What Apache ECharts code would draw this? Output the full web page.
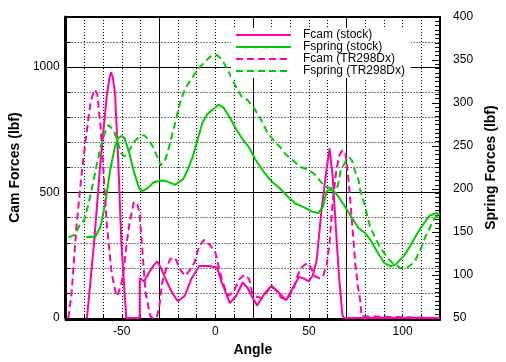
<!DOCTYPE html>
<html>
<head>
<meta charset="utf-8">
<script src="https://cdn.jsdelivr.net/npm/echarts@6/dist/echarts.min.js"></script>
<style>
html,body{margin:0;padding:0;background:#fff;}
#c{width:506px;height:362px;}
</style>
</head>
<body>
<div id="c"></div>
<script>
// ---- data (angle, value) ----
const seriesNames = ['Fcam (stock)', 'Fspring (stock)', 'Fcam (TR298Dx)', 'Fspring (TR298Dx)'];
const xTicks = [-50, 0, 50, 100];
const camTicks = [0, 500, 1000];
const springTicks = [50, 100, 150, 200, 250, 300, 350, 400];

const fcamStock = [[-68.6,0],[-64.8,299],[-61.3,630],[-57.9,894],[-56.5,960],[-55.7,980],[-54.8,960],[-53.6,894],[-51.9,630],[-50.2,299],[-47.6,0],[-40.4,0],[-40.4,160],[-38.1,146],[-35.6,180],[-33,210],[-31,226],[-28.8,195],[-26.6,156],[-23.2,102],[-20.1,67],[-16.3,89],[-12.9,156],[-8.6,208],[-3.5,208],[0.8,202],[3.4,142],[7.7,60],[11.1,89],[14.6,142],[17.2,120],[19.7,84],[22.3,50],[26,95],[30,129],[34,100],[37.8,71],[41,115],[44.6,164],[47.2,158],[49.8,146],[52,170],[54.1,232],[56.7,431],[59.3,590],[61,676],[62.7,560],[64.4,351],[66,170],[67.8,14],[68.7,0],[120,0]];

const fspringStock = [[-69.1,143.9],[-64,144.9],[-61.3,156.6],[-58.8,183.5],[-56.2,222.1],[-53.6,249.5],[-51.9,259.2],[-50.2,261.7],[-48.5,259.2],[-45.9,241.4],[-43.3,218.5],[-40.7,200.8],[-39,197.7],[-36.4,200.8],[-33,207.9],[-28.7,209.9],[-26.6,209.6],[-21.5,204.8],[-17.2,211.6],[-14.6,223.1],[-12,238.4],[-9.5,257.7],[-6.9,277],[-4.3,287.1],[-0.9,293.2],[1.7,298.3],[4.3,294.7],[7.7,283.1],[11.1,269.6],[14.6,257.7],[18,248.3],[21.4,234],[25.8,220.1],[30,208.9],[34.3,201.2],[38.6,191.4],[42.9,182.9],[47.2,179],[51.4,174],[55,172.1],[57.5,179.8],[59.3,197.2],[61.5,199.5],[64.4,195.3],[66.1,189.6],[68.7,181.5],[69.6,179.8],[73,166.2],[76.4,154.8],[79.9,149],[83.3,139.1],[86.8,125.6],[90.2,114.1],[93.6,110.2],[96.2,112.1],[100.5,121.7],[103.9,133.3],[107.4,146.9],[110.8,158.5],[114.3,169],[117.7,172.1],[120,170.2]];

const fcamTR = [[-78.5,0],[-76.8,100],[-74.2,365],[-71.6,563],[-69.1,722],[-66.5,868],[-64.4,910],[-63.1,894],[-61.3,762],[-59.6,563],[-57.9,365],[-55.4,180],[-53.6,113],[-52.7,87],[-51.3,110],[-49.3,166],[-47.5,290],[-45.9,378],[-43.5,464],[-41.5,450],[-40.4,410],[-39,272],[-37.3,100],[-34.7,7],[-33.5,0],[-31.5,0],[-30.1,37],[-28.4,142],[-25.8,208],[-24.1,235],[-21.5,241],[-18.9,195],[-16.3,169],[-13.8,189],[-11.2,222],[-8.6,288],[-6,312],[-2.6,288],[0,261],[1.7,208],[3.4,156],[5.2,116],[6.9,89],[9.4,102],[12.9,156],[15.5,172],[18,156],[19.7,100],[22,85],[24.9,80],[27.5,105],[30,126],[32.5,110],[35.2,80],[38,75],[41.5,110],[43.5,160],[45.5,199],[49,220],[51,200],[53.2,166],[55.5,158],[57.5,166],[59.5,215],[61,300],[62.5,450],[64.4,577],[66,645],[67.8,669],[69.5,655],[71.3,537],[73,378],[74.7,220],[76,130],[77.3,73],[78.1,7],[78.6,0],[120,0]];

const fspringTR = [[-78.5,143.8],[-75,146.9],[-72.5,158.1],[-70,164.2],[-68.2,179.4],[-66.5,195.3],[-63.9,222.1],[-61.3,249.5],[-58.8,266.8],[-57.1,274.6],[-54.5,268.8],[-52.8,259.2],[-50.2,241.4],[-48.5,237.9],[-45.9,245.5],[-43.3,255.2],[-40.7,260.7],[-38.1,262.7],[-35.6,257.3],[-33,247.5],[-30.4,234],[-29.2,227.1],[-26.6,234.8],[-24.1,254.1],[-21.5,277],[-18.9,300.3],[-16.3,316.1],[-12.9,327.8],[-9.5,338.9],[-6,347.1],[-2.6,354],[0.8,355.9],[3.4,350.9],[6.9,337.3],[10.3,321.7],[13.7,308.4],[17.2,303.4],[20.6,294.1],[24,282.5],[27.5,266.8],[30.9,257.3],[34.3,249.5],[37.8,239.8],[42.1,232.1],[45.5,225.6],[49.8,222.4],[53.2,216.6],[58.4,203],[62,201],[65.3,203],[67,222],[69.6,232],[71.5,236.5],[73,233],[74.7,220],[76.4,210.8],[77.3,199],[79.5,183.5],[82.5,157],[85,145],[87.6,133.3],[91.5,121.5],[94.5,114.1],[98.8,108.3],[102.2,108.3],[104.5,112],[106.5,116],[108,123],[110,132],[112,144],[114,152],[116,163],[118,168],[120,170]];

const MAG = '#ff00aa';
const GRN = '#00cc00';
const FONT = '"Liberation Sans", Arial, Helvetica, sans-serif';

const chart = echarts.init(document.getElementById('c'), null, {renderer: 'canvas'});
const dotted = {color: '#000', width: 1, type: [1, 2]};
const solid = {color: '#000', width: 1, type: 'solid'};

chart.setOption({
  animation: false,
  backgroundColor: '#fff',
  textStyle: {fontFamily: FONT},
  grid: {left: 56, top: 17, right: 61, bottom: 43.5, containLabel: false},
  legend: {
    orient: 'vertical', left: 231, top: 28,
    itemWidth: 55, itemHeight: 14, itemGap: 0,
    backgroundColor: '#fff', padding: [1, 6, 1, 4],
    itemStyle: {opacity: 0, color: 'rgba(0,0,0,0)', borderColor: 'rgba(0,0,0,0)', borderWidth: 0},
    textStyle: {fontFamily: FONT, fontSize: 12, color: '#000', padding: [0, 0, 0, 7]},
    data: seriesNames,
    z: 10
  },
  xAxis: [
    {
      type: 'value', min: -80, max: 120, interval: 10, position: 'bottom', offset: 2,
      name: 'Angle', nameLocation: 'middle', nameGap: 22,
      nameTextStyle: {fontFamily: FONT, fontSize: 14, fontWeight: 'bold', color: '#000'},
      axisLine: {show: true, onZero: false, lineStyle: {color: '#000', width: 2}},
      axisTick: {show: true, inside: true, length: 5, lineStyle: {color: '#000', width: 1}},
      axisLabel: {show: true, margin: 6, fontSize: 12, fontFamily: FONT, color: '#000',
        formatter: v => (xTicks.indexOf(v) >= 0 ? String(v) : '')},
      splitLine: {show: true, lineStyle: dotted}
    },
    {
      type: 'value', min: -80, max: 120, interval: 50, position: 'top',
      axisLine: {show: true, onZero: false, lineStyle: {color: '#000', width: 2}},
      axisTick: {show: false}, axisLabel: {show: false},
      splitLine: {show: true, lineStyle: solid}
    }
  ],
  yAxis: [
    {
      type: 'value', min: 0, max: 1200, interval: 100, position: 'left',
      name: 'Cam Forces (lbf)', nameLocation: 'middle', nameGap: 34, nameRotate: 90,
      nameTextStyle: {fontFamily: FONT, fontSize: 14, fontWeight: 'bold', color: '#000'},
      axisLine: {show: true, onZero: false, lineStyle: {color: '#000', width: 3}},
      axisTick: {show: true, inside: true, length: 5, lineStyle: {color: '#000', width: 1}},
      axisLabel: {show: true, margin: 6, fontSize: 12, fontFamily: FONT, color: '#000',
        formatter: v => (camTicks.indexOf(v) >= 0 ? String(v) : '')},
      splitLine: {show: true, lineStyle: dotted}
    },
    {
      type: 'value', min: 0, max: 1200, interval: 500, position: 'left',
      axisLine: {show: false}, axisTick: {show: false}, axisLabel: {show: false},
      splitLine: {show: true, lineStyle: solid}
    },
    {
      type: 'value', min: 50, max: 400, interval: 50, position: 'right',
      name: 'Spring Forces (lbf)', nameLocation: 'middle', nameGap: 38, nameRotate: 90,
      nameTextStyle: {fontFamily: FONT, fontSize: 14, fontWeight: 'bold', color: '#000'},
      axisLine: {show: true, onZero: false, lineStyle: {color: '#000', width: 2}},
      axisTick: {show: true, inside: true, length: 8, lineStyle: {color: '#000', width: 1}},
      minorTick: {show: true, splitNumber: 10, length: 5, lineStyle: {color: '#000', width: 1}},
      axisLabel: {show: true, margin: 13, fontSize: 12, fontFamily: FONT, color: '#000',
        formatter: v => (springTicks.indexOf(v) >= 0 ? String(v) : '')},
      splitLine: {show: false}
    }
  ],
  series: [
    {name: seriesNames[0], type: 'line', xAxisIndex: 0, yAxisIndex: 0, data: fcamStock,
      symbol: 'none', color: MAG, lineStyle: {color: MAG, width: 2, type: 'solid'}},
    {name: seriesNames[1], type: 'line', xAxisIndex: 0, yAxisIndex: 2, data: fspringStock,
      symbol: 'none', color: GRN, lineStyle: {color: GRN, width: 2, type: 'solid'}},
    {name: seriesNames[2], type: 'line', xAxisIndex: 0, yAxisIndex: 0, data: fcamTR,
      symbol: 'none', color: MAG, lineStyle: {color: MAG, width: 2, type: [7, 4]}},
    {name: seriesNames[3], type: 'line', xAxisIndex: 0, yAxisIndex: 2, data: fspringTR,
      symbol: 'none', color: GRN, lineStyle: {color: GRN, width: 2, type: [7, 4]}}
  ]
});
</script>
</body>
</html>
